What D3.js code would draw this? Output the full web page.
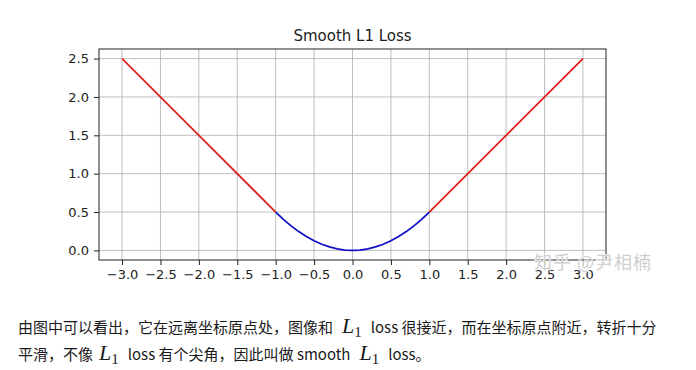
<!DOCTYPE html>
<html><head><meta charset="utf-8">
<script src="https://cdn.jsdelivr.net/npm/d3@7/dist/d3.min.js"></script>
<style>body{margin:0;background:#fff}svg{display:block}</style>
</head><body>
<script>
// Data
const xTicks = [-3.0,-2.5,-2.0,-1.5,-1.0,-0.5,0.0,0.5,1.0,1.5,2.0,2.5,3.0];
const yTicks = [0.0,0.5,1.0,1.5,2.0,2.5];
const leftX = [-3.0,-2.0,-1.0];
const leftY = [2.5,1.5,0.5];
const rightX = [1.0,2.0,3.0];
const rightY = [0.5,1.5,2.5];
const midX = [-1.0,-0.9,-0.8,-0.7,-0.6,-0.5,-0.4,-0.3,-0.2,-0.1,0.0,0.1,0.2,0.3,0.4,0.5,0.6,0.7,0.8,0.9,1.0];
const midY = [0.5,0.405,0.32,0.245,0.18,0.125,0.08,0.045,0.02,0.005,0.0,0.005,0.02,0.045,0.08,0.125,0.18,0.245,0.32,0.405,0.5];
const title = "Smooth L1 Loss";
const watermark = "知乎 @尹相楠";

const W=696,H=370;
const svg=d3.select("body").append("svg").attr("width",W).attr("height",H);
const L=99,R=606,T=49,B=260;
const x=d3.scaleLinear().domain([-3.3,3.3]).range([L,R]);
const y=d3.scaleLinear().domain([-0.125,2.625]).range([B,T]);

const tickFmt = d=>d3.format(".1f")(d).replace("-","\u2212");
// grid
svg.append("g").selectAll("line").data(xTicks).join("line")
 .attr("x1",d=>x(d)).attr("x2",d=>x(d)).attr("y1",T).attr("y2",B)
 .attr("stroke","#b0b0b0").attr("stroke-width",0.8);
svg.append("g").selectAll("line").data(yTicks).join("line")
 .attr("y1",d=>y(d)).attr("y2",d=>y(d)).attr("x1",L).attr("x2",R)
 .attr("stroke","#b0b0b0").attr("stroke-width",0.8);

const line=d3.line().x(d=>x(d[0])).y(d=>y(d[1]));
const seg=(xs,ys)=>xs.map((v,i)=>[v,ys[i]]);
svg.append("path").datum(seg(leftX,leftY)).attr("d",line).attr("fill","none").attr("stroke","#e0201c").attr("stroke-width",1.8);
svg.append("path").datum(seg(rightX,rightY)).attr("d",line).attr("fill","none").attr("stroke","#e0201c").attr("stroke-width",1.8);
svg.append("path").datum(seg(midX,midY)).attr("d",line).attr("fill","none").attr("stroke","#1010c8").attr("stroke-width",1.8);

// axes
const xa=svg.append("g").attr("transform",`translate(0,${B})`)
 .call(d3.axisBottom(x).tickValues(xTicks).tickFormat(tickFmt).tickSize(5).tickPadding(5));
const ya=svg.append("g").attr("transform",`translate(${L},0)`)
 .call(d3.axisLeft(y).tickValues(yTicks).tickFormat(tickFmt).tickSize(5).tickPadding(5));
[xa,ya].forEach(g=>{g.select(".domain").remove();
 g.selectAll("text").attr("font-family","DejaVu Sans").attr("font-size","13px").attr("fill","#222");
 g.selectAll("line").attr("stroke","#222");});
svg.append("rect").attr("x",L).attr("y",T).attr("width",R-L).attr("height",B-T)
 .attr("fill","none").attr("stroke","#222").attr("stroke-width",1);

svg.append("text").attr("x",(L+R)/2).attr("y",41).attr("text-anchor","middle")
 .attr("font-family","DejaVu Sans").attr("font-size","15px").attr("fill","#222").text(title);

// watermark
svg.append("text").attr("x",534).attr("y",269).attr("font-family","Noto Sans CJK SC")
 .attr("font-size","18px").attr("letter-spacing","1px").attr("fill","#cfcfcf").attr("stroke","#fff").attr("stroke-width",0.8)
 .attr("paint-order","stroke").text(watermark);

// caption
const cjk="Noto Sans CJK SC";
function caption(yb, parts){
  const t=svg.append("text").attr("x",18).attr("y",yb).attr("font-family",cjk).attr("font-size","15px").attr("fill","#1a1a1a");
  let pendingDy=0;
  parts.forEach(p=>{
    if(p.m){
      t.append("tspan").attr("dx",p.dx||0).attr("dy",pendingDy).attr("font-family","Liberation Serif").attr("font-style","italic").attr("font-size","22px").text("L");
      t.append("tspan").attr("font-family","Liberation Serif").attr("font-size","15px").attr("dy",4).text("1");
      pendingDy=-4;
    } else {
      t.append("tspan").attr("dx",p.dx||0).attr("dy",pendingDy).text(p.s);
      pendingDy=0;
    }
  });
}
caption(333,[{s:"由图中可以看出，它在远离坐标原点处，图像和"},{m:1,dx:9},{s:"loss 很接近，而在坐标原点附近，转折十分",dx:9}]);
caption(360,[{s:"平滑，不像"},{m:1,dx:6},{s:"loss 有个尖角，因此叫做 smooth",dx:9},{m:1,dx:9},{s:"loss。",dx:9}]);
</script>
</body></html>
